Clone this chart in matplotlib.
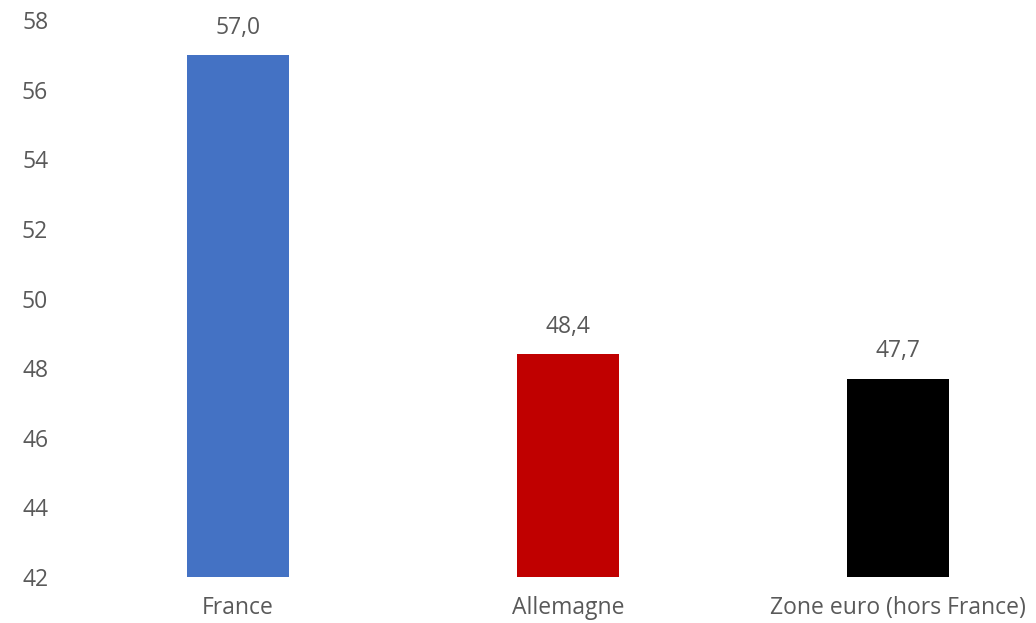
import matplotlib
matplotlib.use("Agg")
import matplotlib.pyplot as plt

# dépenses publiques, en % du PIB
pays = ["France", "Allemagne", "Zone euro (hors France)"]
valeurs = [57.0, 48.4, 47.7]
couleurs = ["#4472C4", "#C00000", "#000000"]
graduations = [42, 44, 46, 48, 50, 52, 54, 56, 58]

plt.rcParams['font.family'] = ['Open Sans', 'DejaVu Sans']
gris = "#595959"
taille = 16.5

fig = plt.figure(figsize=(10.36, 6.23), dpi=100)
ax = fig.add_axes([60 / 1036, 46 / 623, (1036 - 60) / 1036, (577 - 20) / 623])

x = range(len(pays))
ax.bar(x, valeurs, width=0.31, color=couleurs)
ax.set_ylim(42, 58)
ax.set_xlim(-(238 - 60) / 330, 2 + (1036 - 898) / 330)

for xi, v in zip(x, valeurs):
    ax.annotate(f"{v:.1f}".replace(".", ","), (xi, v), xytext=(0, 19.5),
                textcoords="offset points", ha="center", va="center",
                fontsize=taille, color=gris)

ax.set_xticks(list(x))
ax.set_xticklabels(pays, fontsize=taille, color=gris)
ax.set_yticks(graduations)
ax.set_yticklabels([str(g) for g in graduations], fontsize=taille, color=gris)
ax.tick_params(axis="both", length=0)
ax.tick_params(axis="y", pad=8.5)
ax.tick_params(axis="x", pad=14)
for s in ax.spines.values():
    s.set_visible(False)

fig.savefig("out.png", dpi=100)
